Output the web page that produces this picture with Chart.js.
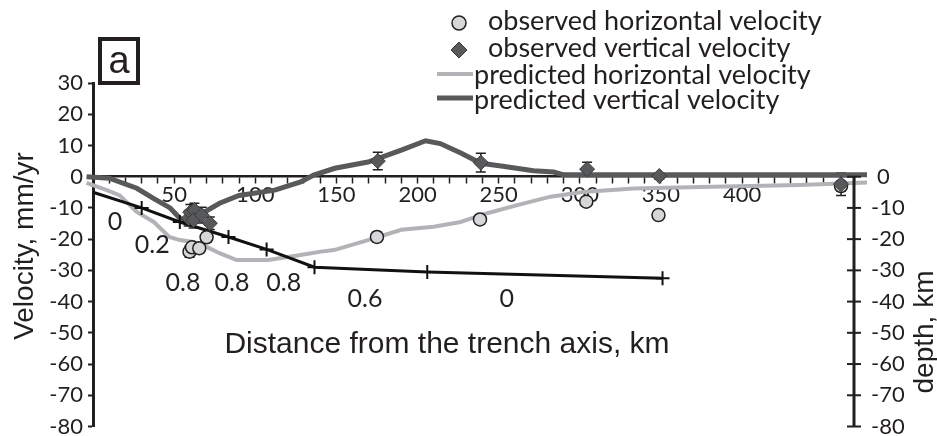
<!DOCTYPE html>
<html>
<head>
<meta charset="utf-8">
<script src="https://cdn.jsdelivr.net/npm/chart.js@4/dist/chart.umd.min.js"></script>
<style>
  html, body { margin: 0; padding: 0; background: #fff; }
  #wrap { position: relative; width: 937px; height: 436px; }
</style>
</head>
<body>
<div id="wrap"><canvas id="chart"></canvas></div>
<script>
// observed horizontal velocity: distance (km), velocity (mm/yr), error
const obsHorizKm  = [59.5, 61, 65.5, 70, 175, 238.5, 304, 348.5, 461]
const obsHorizVel = [-24, -22.6, -22.9, -19.4, -19.3, -13.7, -8, -12.3, -3]
const obsHorizErr = [1.8, 1.5, 1.5, 1.5, 1.5, 1.5, 1.2, 1.2, 1.5]

// observed vertical velocity
const obsVertKm  = [59, 60, 62.5, 62, 67, 72, 175.5, 239, 304.5, 349, 461]
const obsVertVel = [-13.3, -11.4, -10.7, -13.9, -12.3, -14.9, 5, 4.5, 2.4, 0.2, -2.4]
const obsVertErr = [2.5, 2.5, 2.2, 2.5, 2.5, 2, 2.8, 3, 2.2, 1, 3.6]

// predicted horizontal velocity
const predHorizKm  = [-4, 8.5, 16.5, 27, 37.5, 47, 53.5, 62, 70, 78, 88.5, 108, 128, 140.5, 148.5, 169.5, 190, 210, 226.5, 243, 261.5, 282, 302, 333, 374, 435.5, 477]
const predHorizVel = [-2, -4.3, -6, -11.3, -14.5, -19.3, -20.3, -20.9, -22.5, -24.5, -26.7, -26.7, -25.1, -24, -23.5, -20.3, -17, -16, -14.5, -11.7, -9.1, -6.4, -4.9, -3.8, -3.3, -2.7, -1.9]

// predicted vertical velocity
const predVertKm  = [-4, 10, 27, 37.5, 47.5, 53.5, 58, 63, 68.5, 78, 90, 112, 128, 136, 149, 169.5, 190, 205, 214, 227, 239, 251.5, 271.5, 284, 290, 350, 477]
const predVertVel = [0, -0.5, -3.7, -7, -10, -13.3, -14.5, -13, -11.4, -8.5, -6, -4.3, -1.7, 0.5, 2.7, 4.7, 8.5, 11.5, 10.6, 7.5, 4.3, 3.4, 1.9, 1.5, 0.6, 0.6, 0.6]

// slab interface depth
const slabKm    = [0, 30, 53.5, 83.5, 107, 136.5, 206, 351]
const slabDepth = [-5, -10, -14.5, -19.3, -23.3, -29, -30.5, -32.5]

// coupling values written along the slab
const couplingText  = ['0', '0.2', '0.8', '0.8', '0.8', '0.6', '0']
const couplingKm    = [13.5, 36.5, 55.5, 85.7, 117.6, 167.6, 255]
const couplingDepth = [-14.6, -21.9, -34, -34, -34, -39, -39]

// depth axis tick labels
const depthTicks = [0, -10, -20, -30, -40, -50, -60, -70, -80]

const INK = '#231f20'
const DARK = '#58595b'
const LIGHT = '#b1b3b6'
const TICK_FONT = 'Lato'
const TITLE_FONT = '"Liberation Sans", Arial, sans-serif'

const toXY = (xs, ys) => xs.map((x, i) => ({ x: x, y: ys[i] }))

// Error bars for the observed points
const errorBars = {
  id: 'errorBars',
  beforeDatasetsDraw(chart) {
    const ctx = chart.ctx
    ctx.save()
    ctx.strokeStyle = INK
    ctx.lineWidth = 1.5
    chart.data.datasets.forEach((ds, i) => {
      if (!ds.errors) return
      const ys = chart.scales[ds.yAxisID || 'y']
      ds.data.forEach((p, j) => {
        const px = chart.scales.x.getPixelForValue(p.x)
        const top = ys.getPixelForValue(p.y + ds.errors[j])
        const bot = ys.getPixelForValue(p.y - ds.errors[j])
        ctx.beginPath()
        ctx.moveTo(px, top); ctx.lineTo(px, bot)
        ctx.moveTo(px - 5, top); ctx.lineTo(px + 5, top)
        ctx.moveTo(px - 5, bot); ctx.lineTo(px + 5, bot)
        ctx.stroke()
      })
    })
    ctx.restore()
  }
}

// Depth axis on the right, only from 0 to -80
const depthAxis = {
  id: 'depthAxis',
  afterDraw(chart) {
    const ctx = chart.ctx
    const y2 = chart.scales.y2
    const x = chart.chartArea.right
    ctx.save()
    ctx.strokeStyle = INK
    ctx.fillStyle = INK
    ctx.lineWidth = 3
    ctx.beginPath()
    ctx.moveTo(x, y2.getPixelForValue(0))
    ctx.lineTo(x, y2.getPixelForValue(-80))
    ctx.stroke()
    ctx.lineWidth = 2
    ctx.font = `22px ${TICK_FONT}`
    ctx.textAlign = 'left'
    ctx.textBaseline = 'middle'
    depthTicks.forEach(t => {
      const py = y2.getPixelForValue(t)
      ctx.beginPath()
      ctx.moveTo(x - 7, py); ctx.lineTo(x + 7, py)
      ctx.stroke()
      ctx.fillText(String(t), t === 0 ? x + 23 : x + 17, py)
    })
    ctx.restore()
  }
}

// Titles, panel letter, coupling labels and legend
const decorations = {
  id: 'decorations',
  afterDraw(chart) {
    const ctx = chart.ctx
    const { x, y2 } = chart.scales
    ctx.save()
    ctx.fillStyle = INK
    ctx.strokeStyle = INK

    // panel letter
    ctx.lineWidth = 4
    ctx.strokeRect(100, 39, 38, 44)
    ctx.font = `38px ${TITLE_FONT}`
    ctx.textAlign = 'center'
    ctx.textBaseline = 'alphabetic'
    ctx.fillText('a', 119, 73)

    // axis titles
    ctx.font = `30px ${TITLE_FONT}`
    ctx.fillText('Distance from the trench axis, km', 447, 353)
    ctx.font = `28px ${TITLE_FONT}`
    ctx.save()
    ctx.translate(33, 246)
    ctx.rotate(-Math.PI / 2)
    ctx.fillText('Velocity, mm/yr', 0, 0)
    ctx.restore()
    ctx.save()
    ctx.translate(933, 332)
    ctx.rotate(-Math.PI / 2)
    ctx.fillText('depth, km', 0, 0)
    ctx.restore()

    // coupling values
    ctx.font = `25px ${TICK_FONT}`
    ctx.textBaseline = 'middle'
    couplingText.forEach((t, i) => {
      ctx.fillText(t, x.getPixelForValue(couplingKm[i]), y2.getPixelForValue(couplingDepth[i]))
    })

    // legend
    ctx.font = `27px ${TICK_FONT}`
    ctx.textAlign = 'left'
    const markY = [23, 50, 74, 98]
    const textY = [21, 48, 75, 100]
    const sets = [1, 0, 4, 3].map(i => chart.data.datasets[i])
    sets.forEach((ds, r) => {
      const ry = markY[r]
      if (ds.showLine) {
        ctx.strokeStyle = ds.borderColor
        ctx.lineWidth = ds.borderWidth
        ctx.beginPath()
        ctx.moveTo(437, ry); ctx.lineTo(473, ry)
        ctx.stroke()
        ctx.fillStyle = INK
        ctx.fillText(ds.label, 474, textY[r])
      } else {
        ctx.fillStyle = ds.backgroundColor
        ctx.strokeStyle = ds.borderColor
        ctx.lineWidth = ds.borderWidth
        ctx.beginPath()
        if (ds.pointStyle === 'rectRot') {
          const r0 = 8
          ctx.moveTo(459, ry - r0); ctx.lineTo(459 + r0, ry)
          ctx.lineTo(459, ry + r0); ctx.lineTo(459 - r0, ry)
          ctx.closePath()
        } else {
          ctx.arc(459, ry, 7, 0, Math.PI * 2)
        }
        ctx.fill(); ctx.stroke()
        ctx.fillStyle = INK
        ctx.fillText(ds.label, 488, textY[r])
      }
    })
    ctx.restore()
  }
}

// keep scale paddings from pushing the plot area around
const noPad = s => { s.paddingTop = 0; s.paddingBottom = 0; s.paddingLeft = 0; s.paddingRight = 0 }

const ctx = document.getElementById('chart')
new Chart(ctx, {
  type: 'scatter',
  data: {
    datasets: [
      {
        label: 'observed vertical velocity',
        data: toXY(obsVertKm, obsVertVel),
        errors: obsVertErr,
        pointStyle: 'rectRot',
        pointRadius: 7.5,
        backgroundColor: DARK,
        borderColor: '#3a3a3c',
        borderWidth: 1,
        clip: false
      },
      {
        label: 'observed horizontal velocity',
        data: toXY(obsHorizKm, obsHorizVel),
        errors: obsHorizErr,
        pointStyle: 'circle',
        pointRadius: 6.5,
        backgroundColor: '#d6d7d9',
        borderColor: INK,
        borderWidth: 1.5,
        clip: false
      },
      {
        label: 'slab depth',
        data: toXY(slabKm, slabDepth),
        yAxisID: 'y2',
        showLine: true,
        borderColor: '#111',
        backgroundColor: '#111',
        borderWidth: 3,
        pointStyle: 'cross',
        pointRadius: c => c.dataIndex === 0 ? 0 : 7,
        pointBorderWidth: 2,
        clip: false
      },
      {
        label: 'predicted vertical velocity',
        data: toXY(predVertKm, predVertVel),
        showLine: true,
        borderColor: DARK,
        borderWidth: 5,
        pointRadius: 0,
        clip: false
      },
      {
        label: 'predicted horizontal velocity',
        data: toXY(predHorizKm, predHorizVel),
        showLine: true,
        borderColor: LIGHT,
        borderWidth: 4,
        pointRadius: 0,
        clip: false
      }
    ]
  },
  options: {
    responsive: true,
    maintainAspectRatio: false,
    animation: false,
    devicePixelRatio: 1,
    layout: { padding: { left: 0, right: 83, top: 83, bottom: 9.5 } },
    plugins: { legend: { display: false }, tooltip: { enabled: false } },
    scales: {
      x: {
        type: 'linear',
        position: { y: 0 },
        min: 0,
        max: 469,
        afterFit: noPad,
        ticks: {
          stepSize: 10,
          autoSkip: false,
          maxRotation: 0,
          padding: -1,
          color: INK,
          font: { family: TICK_FONT, size: 22 },
          callback: v => (v % 50 === 0 && v > 0 && v <= 400) ? v : ''
        },
        grid: { drawOnChartArea: false, tickLength: 6, tickWidth: 1.5, tickColor: INK },
        border: { color: INK, width: 2.5 }
      },
      y: {
        min: -80,
        max: 30,
        afterFit: s => { noPad(s); s.width = 93 },
        ticks: {
          stepSize: 5,
          padding: 5,
          color: INK,
          font: { family: TICK_FONT, size: 22 },
          callback: v => v % 10 === 0 ? v : ''
        },
        grid: { drawOnChartArea: false, tickLength: 5, tickWidth: 2, tickColor: INK },
        border: { color: INK, width: 3 }
      },
      y2: {
        display: false,
        position: 'right',
        min: -80,
        max: 30
      }
    }
  },
  plugins: [errorBars, depthAxis, decorations]
})
</script>
</body>
</html>
